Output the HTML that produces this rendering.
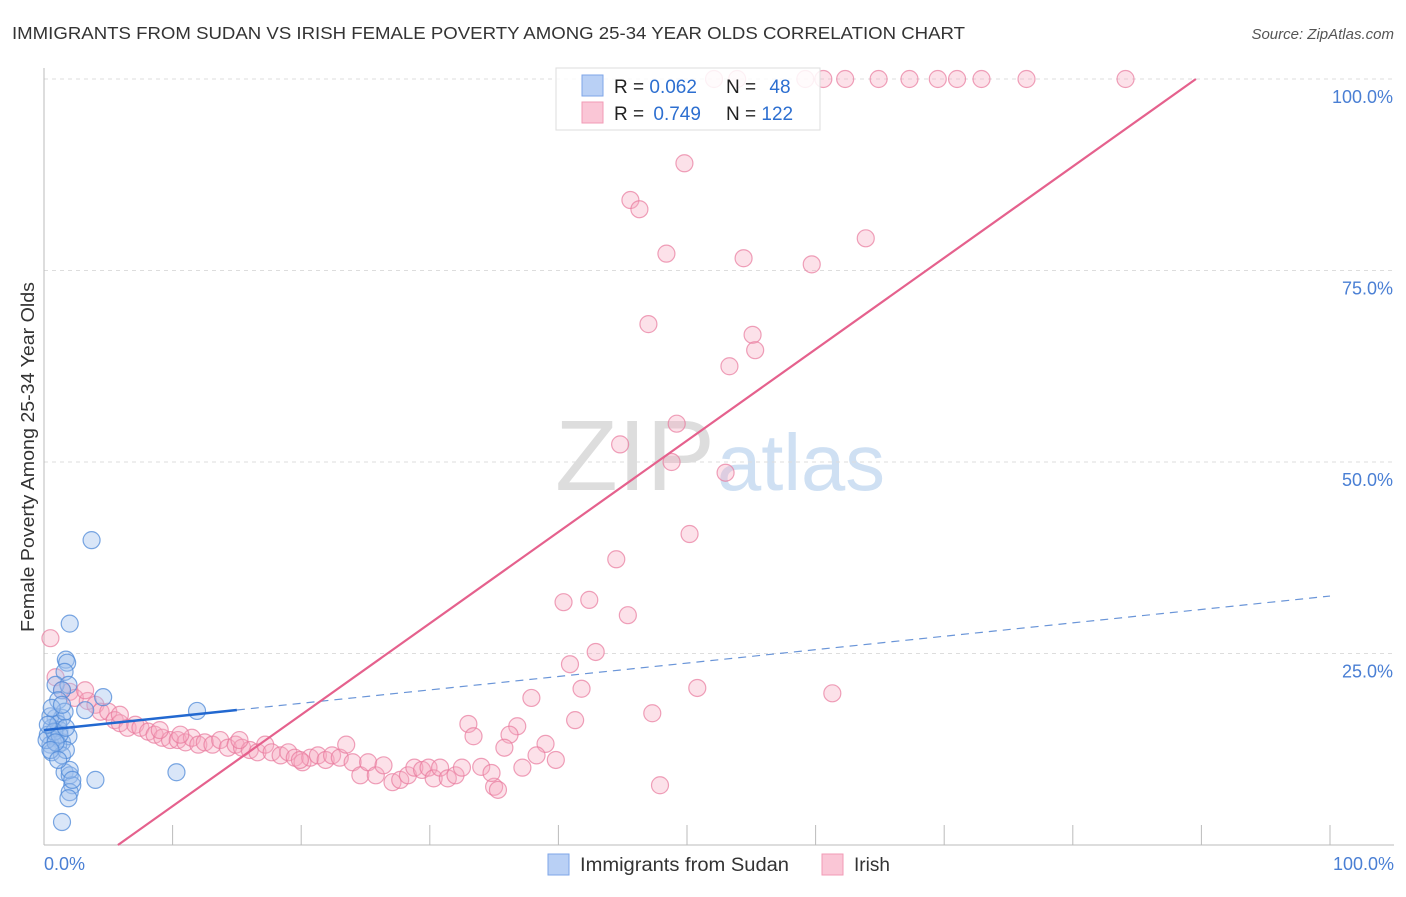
<!DOCTYPE html>
<html><head><meta charset="utf-8"><style>
body{margin:0;background:#fff;font-family:"Liberation Sans",sans-serif;}
svg text{font-family:"Liberation Sans",sans-serif;}
</style></head><body>
<svg id="chart" width="1406" height="892" xmlns="http://www.w3.org/2000/svg">
<text x="12" y="39" font-size="17.5" fill="#333" textLength="953" lengthAdjust="spacingAndGlyphs">IMMIGRANTS FROM SUDAN VS IRISH FEMALE POVERTY AMONG 25-34 YEAR OLDS CORRELATION CHART</text>
<text x="1394" y="39" font-size="15" fill="#555" font-style="italic" text-anchor="end">Source: ZipAtlas.com</text>
<text x="555" y="490" font-size="100" fill="#ddd" font-family="Liberation Serif" textLength="160" lengthAdjust="spacingAndGlyphs">ZIP</text>
<text x="717" y="490" font-size="80" fill="#cfe0f3" textLength="168" lengthAdjust="spacingAndGlyphs">atlas</text>
<g id="grid"></g>
<g id="axes"></g>
<g id="pts"></g>
<g id="lines"></g>
<text transform="translate(34,457) rotate(-90)" font-size="18" fill="#333" text-anchor="middle" textLength="350" lengthAdjust="spacingAndGlyphs">Female Poverty Among 25-34 Year Olds</text>
<text x="44" y="870" font-size="18" fill="#4a7fd4">0.0%</text>
<text x="1394" y="870" font-size="18" fill="#4a7fd4" text-anchor="end">100.0%</text>
<g>
<rect x="556" y="68" width="264" height="62" fill="#fff" fill-opacity="0.85" stroke="#ddd"/>
<rect x="582" y="75" width="21" height="21" fill="#b9d0f5" stroke="#7ea6e8"/>
<rect x="582" y="102" width="21" height="21" fill="#fac6d6" stroke="#f19bb6"/>
<text x="614" y="93" font-size="19" fill="#222">R = <tspan fill="#2d6fd0">0.062</tspan></text>
<text x="726" y="93" font-size="19" fill="#222">N = <tspan fill="#2d6fd0" dx="8">48</tspan></text>
<text x="614" y="120" font-size="19" fill="#222">R = <tspan fill="#2d6fd0" dx="4">0.749</tspan></text>
<text x="726" y="120" font-size="19" fill="#222">N = <tspan fill="#2d6fd0">122</tspan></text>
</g>
<g>
<rect x="548" y="854" width="21" height="21" fill="#b9d0f5" stroke="#7ea6e8"/>
<text x="580" y="871" font-size="19" fill="#333" textLength="209" lengthAdjust="spacingAndGlyphs">Immigrants from Sudan</text>
<rect x="822" y="854" width="21" height="21" fill="#fac6d6" stroke="#f19bb6"/>
<text x="854" y="871" font-size="19" fill="#333">Irish</text>
</g>
</svg>
<script>
const yTicks=[25,50,75,100];
const yTickLabels=["25.0%","50.0%","75.0%","100.0%"];
const xTicks=[10,20,30,40,50,60,70,80,90,100];
const sudanX=[3.7,2.0,1.7,1.8,1.6,0.9,1.9,1.4,4.6,1.1,3.2,11.9,0.9,1.4,0.6,1.2,0.3,0.9,1.4,1.9,0.5,1.1,0.6,1.4,1.6,4.0,2.0,2.2,2.0,1.9,1.4,10.3,0.5,1.1,0.2,1.7,0.8,1.2,0.3,1.6,0.6,2.0,2.2,0.9,0.5,1.7,1.4,1.1];
const sudanY=[39.8,28.9,24.2,23.8,22.6,20.9,20.9,20.2,19.3,18.9,17.6,17.5,16.6,16.6,15.3,15.0,14.4,14.0,13.4,14.2,13.1,13.1,12.1,11.7,9.5,8.5,9.1,7.8,6.9,6.1,3.0,9.5,16.8,15.8,13.7,12.4,14.8,14.4,15.7,17.4,17.9,9.8,8.5,13.4,12.4,15.3,18.3,11.1];
const irishX=[52.1,53.9,59.2,60.6,62.3,64.9,67.3,69.5,71.0,72.9,76.4,84.1,49.8,45.6,46.3,48.4,54.4,59.7,63.9,47.0,55.1,55.3,53.3,49.2,44.8,48.8,53.0,50.2,44.5,40.4,42.4,45.4,42.9,40.9,41.8,50.8,61.3,37.9,41.3,47.3,33.0,36.8,33.4,36.2,35.8,39.0,38.3,39.8,37.2,34.0,47.9,35.0,35.3,34.8,
0.5,0.9,1.4,2.0,2.4,3.4,4.0,4.4,5.0,5.5,5.9,6.5,7.1,7.5,8.1,8.6,9.2,9.8,10.4,11.0,11.5,12.0,12.5,13.1,13.7,14.3,14.9,15.4,16.0,16.6,17.2,17.7,18.4,19.0,19.5,20.1,20.7,21.3,21.9,22.4,23.0,23.5,24.0,24.6,25.2,25.8,26.4,27.1,27.7,28.3,28.8,29.4,29.9,30.3,30.8,31.4,32.0,32.5,19.9,10.6,15.2,9.0,5.9,3.2];
const irishY=[100,100,100,100,100,100,100,100,100,100,100,100,89.0,84.2,83.0,77.2,76.6,75.8,79.2,68.0,66.6,64.6,62.5,55.0,52.3,50.0,48.6,40.6,37.3,31.7,32.0,30.0,25.2,23.6,20.4,20.5,19.8,19.2,16.3,17.2,15.8,15.5,14.2,14.4,12.7,13.2,11.7,11.1,10.1,10.2,7.8,7.6,7.2,9.4,
27.0,21.9,20.2,20.0,19.2,18.8,18.3,17.4,17.4,16.3,15.9,15.3,15.7,15.3,14.8,14.4,14.0,13.7,13.7,13.4,14.0,13.1,13.4,13.1,13.7,12.7,13.1,12.7,12.4,12.1,13.1,12.1,11.7,12.1,11.4,10.8,11.4,11.7,11.1,11.7,11.4,13.1,10.8,9.1,10.8,9.1,10.4,8.2,8.5,9.1,10.1,9.8,10.1,8.7,10.1,8.7,9.1,10.1,11.1,14.4,13.7,15.0,17.0,20.2];
const sudanFit=[15.0,0.175];
const irishFit=[-6.86,1.193];
const NS="http://www.w3.org/2000/svg";
const X0=44,X1=1330,Y0=845,Y1=79;
function sx(v){return X0+(X1-X0)*v/100;}
function sy(v){return Y0-(Y0-Y1)*v/100;}
function mk(tag,attrs,parent){const e=document.createElementNS(NS,tag);for(const k in attrs)e.setAttribute(k,attrs[k]);parent.appendChild(e);return e;}
const grid=document.getElementById('grid'),axes=document.getElementById('axes'),pts=document.getElementById('pts'),lines=document.getElementById('lines');
yTicks.forEach((t,i)=>{
 const l=mk('line',{x1:X0,x2:1394,y1:sy(t),y2:sy(t),stroke:'#ddd','stroke-dasharray':'4,4'},grid);
 
 
 const tx=mk('text',{x:1393,y:sy(t)+24,'font-size':18,fill:'#4a7fd4','text-anchor':'end'},grid);
 tx.textContent=yTickLabels[i];
 
 
});
const ax=mk('line',{x1:X0,x2:X0,y1:68,y2:Y0,stroke:'#bbb'},axes);


const bx=mk('line',{x1:X0,x2:1394,y1:Y0,y2:Y0,stroke:'#bbb'},axes);


xTicks.forEach(t=>{
 const l=mk('line',{x1:sx(t),x2:sx(t),y1:825,y2:Y0,stroke:'#bbb'},axes);
 
 
});
irishX.forEach((x,i)=>{
 const c=mk('circle',{cx:sx(x),cy:sy(irishY[i]),r:8.5,fill:'#f7a8c0','fill-opacity':0.35,stroke:'#e8799c','stroke-opacity':0.7,'stroke-width':1.2},pts);
 
 
});
sudanX.forEach((x,i)=>{
 const c=mk('circle',{cx:sx(x),cy:sy(sudanY[i]),r:8.5,fill:'#9fc0ee','fill-opacity':0.4,stroke:'#4f8ad8','stroke-opacity':0.75,'stroke-width':1.2},pts);
 
 
});
const f=(fit,x)=>fit[0]+fit[1]*x;
const s1=mk('line',{x1:sx(0),y1:sy(f(sudanFit,0)),x2:sx(15),y2:sy(f(sudanFit,15)),stroke:'#2268d0','stroke-width':2.5},lines);


const s2=mk('line',{x1:sx(15),y1:sy(f(sudanFit,15)),x2:sx(100),y2:sy(f(sudanFit,100)),stroke:'#6a95d8','stroke-width':1.2,'stroke-dasharray':'8,6'},lines);


const xa=-irishFit[0]/irishFit[1],xb=(100-irishFit[0])/irishFit[1];
const p=mk('line',{x1:sx(xa),y1:sy(0),x2:sx(xb),y2:sy(100),stroke:'#e5618d','stroke-width':2.2},lines);


</script>
</body></html>
